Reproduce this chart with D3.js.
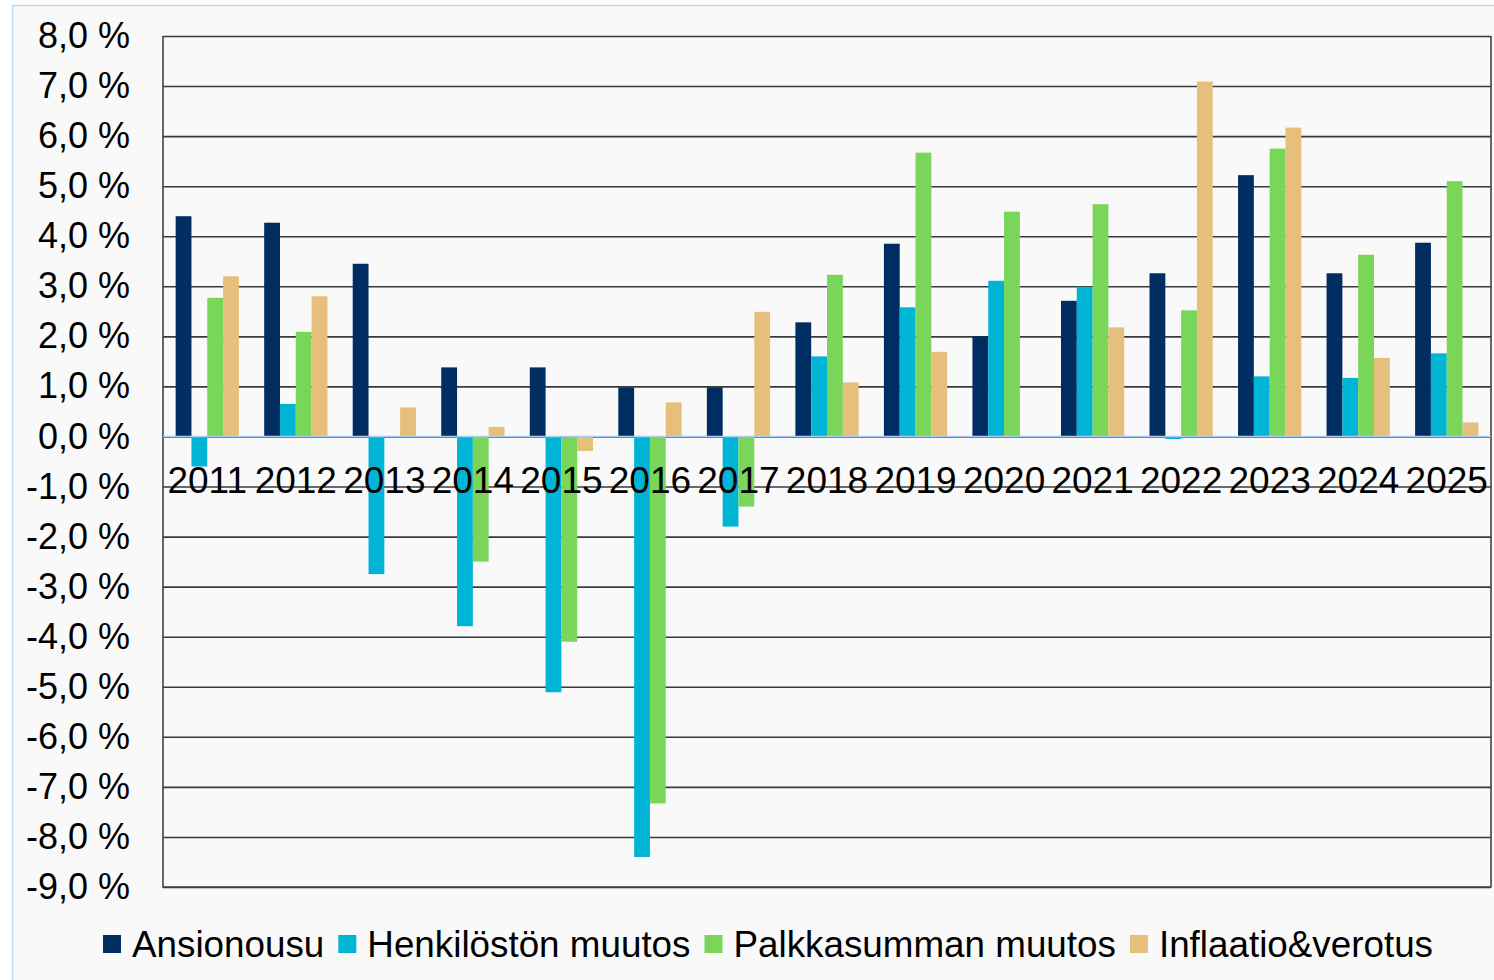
<!DOCTYPE html>
<html>
<head>
<meta charset="utf-8">
<script src="https://cdn.jsdelivr.net/npm/d3@7"></script>
<style>
  body { margin: 0; background: #ffffff; }
  svg text { font-family: "Liberation Sans", Arial, sans-serif; fill: #000; }
</style>
</head>
<body>
<div id="chart"></div>
<script>
// Data (percent)
const years = ["2011", "2012", "2013", "2014", "2015", "2016", "2017", "2018",
               "2019", "2020", "2021", "2022", "2023", "2024", "2025"];
const ansionousu  = [4.40, 4.27, 3.45, 1.38, 1.38, 0.98, 0.98, 2.28, 3.85, 2.00, 2.71, 3.26, 5.22, 3.26, 3.87];
const henkilosto  = [-0.60, 0.65, -2.75, -3.79, -5.11, -8.40, -1.80, 1.60, 2.58, 3.11, 2.99, -0.05, 1.20, 1.17, 1.66];
const palkkasumma = [2.77, 2.09, 0, -2.50, -4.10, -7.33, -1.40, 3.23, 5.67, 4.49, 4.64, 2.52, 5.75, 3.63, 5.10];
const inflaatio   = [3.20, 2.80, 0.58, 0.19, -0.29, 0.68, 2.49, 1.08, 1.69, 0, 2.18, 7.09, 6.17, 1.57, 0.28];
const seriesNames = ["Ansionousu", "Henkilöstön muutos", "Palkkasumman muutos", "Inflaatio&verotus"];
const seriesValues = [ansionousu, henkilosto, palkkasumma, inflaatio];
const colors = ["#002d62", "#00b4d6", "#79d659", "#e6bf7c"];
const yTicks = d3.range(-9, 9);

const W = 1494, H = 980;
const margin = { top: 36, right: 3, bottom: 93, left: 163 };
const width = W - margin.left - margin.right;
const height = H - margin.top - margin.bottom;

const fmt = d => d.toFixed(1).replace(".", ",") + " %";

const root = d3.select("#chart").append("svg")
  .attr("width", W)
  .attr("height", H);

// chart area background and thin blue frame
root.append("rect")
  .attr("x", 12.5).attr("y", 5.5)
  .attr("width", W).attr("height", H)
  .attr("fill", "#f9f9f9")
  .attr("stroke", "#bcd8f5")
  .attr("stroke-width", 1.5);

const svg = root.append("g")
  .attr("transform", `translate(${margin.left},${margin.top})`);

// scales
const x0 = d3.scaleBand().domain(years).range([0, width]).padding(0);
const x1 = d3.scaleBand().domain(seriesNames).range([0, x0.bandwidth()])
  .paddingInner(0).paddingOuter(0.8);
const y = d3.scaleLinear().domain([-9, 8]).range([height, 0]);

// grid lines
svg.append("g")
  .attr("class", "grid")
  .call(d3.axisLeft(y).tickValues(yTicks).tickSize(-width).tickFormat(""))
  .call(g => g.select(".domain").remove())
  .call(g => g.selectAll("line").attr("stroke", "#3a3a3a").attr("stroke-width", 1.6));

// plot frame (left, right, bottom)
svg.append("path")
  .attr("d", `M0,0V${height}H${width}V0`)
  .attr("fill", "none")
  .attr("stroke", "#444")
  .attr("stroke-width", 1.6);

// y axis labels
svg.append("g")
  .attr("class", "y-axis")
  .call(d3.axisLeft(y).tickValues(yTicks).tickSize(0).tickPadding(33).tickFormat(fmt))
  .call(g => g.select(".domain").remove())
  .call(g => g.selectAll("text")
    .style("font-size", "36px")
    .style("font-family", "'Liberation Sans', Arial, sans-serif")
    .attr("fill", "#000"));

// bars
const groups = svg.selectAll(".year")
  .data(years)
  .enter()
  .append("g")
  .attr("class", "year")
  .attr("transform", d => `translate(${x0(d)},0)`);

groups.selectAll("rect")
  .data((d, i) => seriesNames.map((s, k) => ({ name: s, value: seriesValues[k][i], color: colors[k] })))
  .enter()
  .append("rect")
  .attr("x", d => x1(d.name))
  .attr("width", x1.bandwidth())
  .attr("y", d => y(Math.max(0, d.value)))
  .attr("height", d => Math.abs(y(d.value) - y(0)))
  .attr("fill", d => d.color);

// zero line
svg.append("line")
  .attr("x1", 0).attr("x2", width)
  .attr("y1", y(0)).attr("y2", y(0))
  .attr("stroke", "#a9cdf3")
  .attr("stroke-width", 1.5);

// year labels just below the zero line
svg.append("g")
  .selectAll("text")
  .data(years)
  .enter()
  .append("text")
  .attr("x", d => x0(d) + x0.bandwidth() / 2)
  .attr("y", y(0) + 57)
  .attr("text-anchor", "middle")
  .style("font-size", "37px")
  .text(d => d);

// legend
const legend = root.append("g").attr("transform", "translate(103,944)");
let lx = 0;
seriesNames.forEach((name, k) => {
  const item = legend.append("g").attr("transform", `translate(${lx},0)`);
  item.append("rect")
    .attr("x", 0).attr("y", -9)
    .attr("width", 18).attr("height", 18)
    .attr("fill", colors[k]);
  const t = item.append("text")
    .attr("x", 29).attr("y", 13)
    .style("font-size", "36.8px")
    .text(name);
  lx += 29 + t.node().getComputedTextLength() + 14;
});
</script>
</body>
</html>
